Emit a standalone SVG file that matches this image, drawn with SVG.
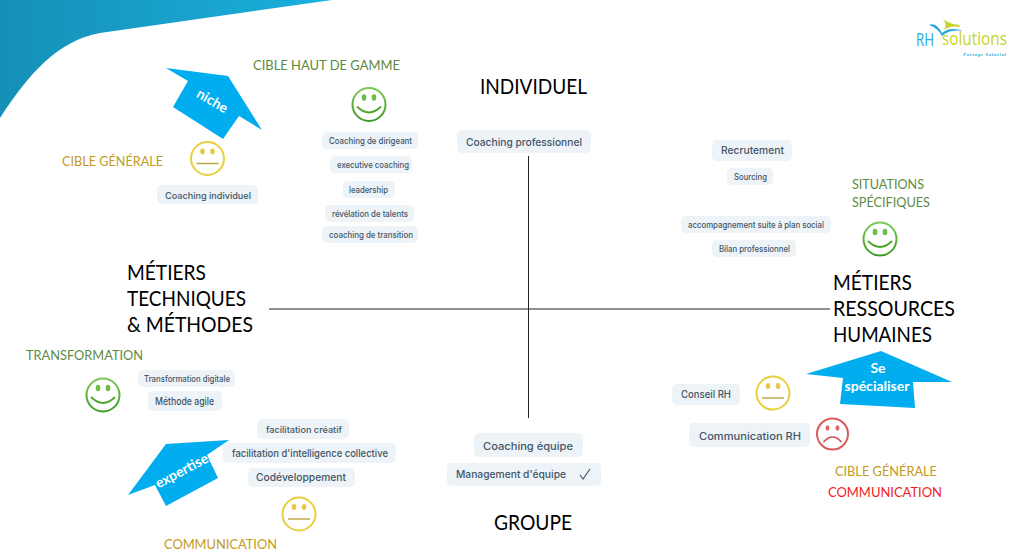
<svg xmlns="http://www.w3.org/2000/svg" xmlns:xlink="http://www.w3.org/1999/xlink" width="1024" height="557" viewBox="0 0 1024 557">
<style>
text{font-family:"Lato","Open Sans","Liberation Sans",sans-serif}
.chip rect{fill:#edf3f6;rx:5px}
.chip text{font-family:"Inter","Roboto","Liberation Sans",sans-serif;fill:#43566a;text-anchor:middle;font-size:9px;font-weight:500}
.m{font-size:10.500px!important}
.axis{font-size:20.500px;fill:#000}
.green{fill:#5d8a42;font-size:14px}
.gold{fill:#c39a22;font-size:14px}
.red{fill:#f21c1c;font-size:14px}
.arrow{fill:#00aeef}
.arrow text{fill:#fff;font-weight:700;text-anchor:middle;font-size:14px}
line{stroke:#222;stroke-width:1}
</style>
<defs>
<linearGradient id="sw" x1="0" y1="0" x2="1" y2="0"><stop offset="0" stop-color="#1590b6"/><stop offset="1" stop-color="#1ab0de"/></linearGradient>
<linearGradient id="gf" x1="0" y1="0" x2="0" y2="1"><stop offset="0" stop-color="#7cc855"/><stop offset="1" stop-color="#3c9a22"/></linearGradient>
<g id="happy"><circle r="16.500" fill="#fff" stroke="url(#gf)" stroke-width="2"/><ellipse cx="-5" cy="-7" rx="2.300" ry="3.200" fill="#6cbd45"/><ellipse cx="5" cy="-7" rx="2.300" ry="3.200" fill="#6cbd45"/><path d="M-12 2Q0 14 12 2" fill="none" stroke="#4ea62e" stroke-width="1.800"/></g>
<g id="neutral"><circle r="16.500" fill="#fff" stroke="#e8cf3c" stroke-width="2"/><ellipse cx="-5" cy="-7" rx="2.300" ry="3" fill="#e6c94a"/><ellipse cx="5" cy="-7" rx="2.300" ry="3" fill="#e6c94a"/><path d="M-11 5H11" fill="none" stroke="#b9a43a" stroke-width="1.400"/></g>
<g id="sad"><circle r="15.500" fill="#fff" stroke="#dc5a5a" stroke-width="2"/><ellipse cx="-5" cy="-6" rx="2" ry="2.700" fill="#e06565"/><ellipse cx="5" cy="-6" rx="2" ry="2.700" fill="#e06565"/><path d="M-9 8Q0 -2 9 8" fill="none" stroke="#d84f4f" stroke-width="1.700"/></g>
</defs>
<rect width="1024" height="557" fill="#fff"/>
<path id="swoosh" d="M0 0H332L100 33C58 41 30 72 0 118Z" fill="url(#sw)"/>
<g id="logo">
<path d="M929 25Q936 22 942 33Q950 26 963 31Q950 29 942 36Q938 28 929 25Z" fill="#1fa8dc"/>
<path d="M941 16Q946 24 959 25L960 27Q950 25 944 30Q948 24 941 16Z" fill="#c8d32a"/>
<text x="916" y="46" font-size="18" fill="#1fa8dc" style="font-family:'Open Sans',sans-serif" textLength="18" lengthAdjust="spacingAndGlyphs">RH</text>
<text x="942" y="45" font-size="18" fill="#c8d32a" style="font-family:'Open Sans',sans-serif" textLength="65" lengthAdjust="spacingAndGlyphs">solutions</text>
<text x="963" y="56" font-size="5" font-style="italic" font-weight="700" fill="#1fa8dc" style="font-family:'Liberation Serif',serif" textLength="43">Portage Salarial</text>
</g>
<g id="connectors"><line x1="269" y1="309" x2="830" y2="309"/><line x1="528.500" y1="156" x2="528.500" y2="418"/></g>
<g id="axis-individuel"><text class="axis" x="480" y="94" textLength="107" lengthAdjust="spacingAndGlyphs">INDIVIDUEL</text></g>
<g id="axis-groupe"><text class="axis" x="494" y="530" textLength="78" lengthAdjust="spacingAndGlyphs">GROUPE</text></g>
<g id="axis-techniques"><text class="axis" x="127" y="280" textLength="79" lengthAdjust="spacingAndGlyphs">MÉTIERS</text><text class="axis" x="127" y="306" textLength="119" lengthAdjust="spacingAndGlyphs">TECHNIQUES</text><text class="axis" x="127" y="332" textLength="126" lengthAdjust="spacingAndGlyphs">&amp; MÉTHODES</text></g>
<g id="axis-rh"><text class="axis" x="833" y="290" textLength="79" lengthAdjust="spacingAndGlyphs">MÉTIERS</text><text class="axis" x="833" y="316" textLength="122" lengthAdjust="spacingAndGlyphs">RESSOURCES</text><text class="axis" x="833" y="342" textLength="99" lengthAdjust="spacingAndGlyphs">HUMAINES</text></g>
<g id="arrow-niche" class="arrow"><path d="M166 68L228 76L262 130L239 116L223 139L173 107L188 81Z"/><text transform="translate(210 105) rotate(30)">niche</text></g>
<g id="arrow-expertise" class="arrow"><path d="M229 440L166 444L128 495L155 485L166 506L218 478L207 455Z"/><text transform="translate(184 475) rotate(-28)">expertise</text></g>
<g id="arrow-specialiser" class="arrow"><path d="M881 351L952 382L913 382L915 408L840 404L843 378L806 374Z"/><text x="878" y="373">Se</text><text x="877" y="391" textLength="65" lengthAdjust="spacingAndGlyphs">spécialiser</text></g>
<g id="label-haut"><text class="green" x="253" y="70" textLength="147" lengthAdjust="spacingAndGlyphs">CIBLE HAUT DE GAMME</text><use xlink:href="#happy" href="#happy" x="369" y="104.500"/></g>
<g id="label-generale"><text class="gold" x="62" y="166" textLength="101" lengthAdjust="spacingAndGlyphs">CIBLE GÉNÉRALE</text><use xlink:href="#neutral" href="#neutral" x="207.500" y="158.500"/></g>
<g id="label-situations"><text class="green" x="852" y="189" textLength="72" lengthAdjust="spacingAndGlyphs">SITUATIONS</text><text class="green" x="852" y="207" textLength="78" lengthAdjust="spacingAndGlyphs">SPÉCIFIQUES</text><use xlink:href="#happy" href="#happy" x="880" y="239"/></g>
<g id="label-transformation"><text class="green" x="26" y="360" textLength="117" lengthAdjust="spacingAndGlyphs">TRANSFORMATION</text><use xlink:href="#happy" href="#happy" x="103" y="395"/></g>
<g id="label-communication"><use xlink:href="#neutral" href="#neutral" x="299" y="514"/><text class="gold" x="164" y="549" textLength="113" lengthAdjust="spacingAndGlyphs">COMMUNICATION</text></g>
<g id="label-rh"><use xlink:href="#neutral" href="#neutral" x="773" y="393"/><use xlink:href="#sad" href="#sad" x="832.500" y="434"/><text class="gold" x="835" y="476" textLength="102" lengthAdjust="spacingAndGlyphs">CIBLE GÉNÉRALE</text><text class="red" x="828" y="497" textLength="114" lengthAdjust="spacingAndGlyphs">COMMUNICATION</text></g>
<g id="chip-individuel" class="chip"><rect x="157" y="185" width="101" height="19"/><text x="208" y="198.500" textLength="86" lengthAdjust="spacingAndGlyphs">Coaching individuel</text></g>
<g id="chip-dirigeant" class="chip"><rect x="322" y="132" width="96" height="17"/><text x="370.500" y="144" textLength="83" lengthAdjust="spacingAndGlyphs">Coaching de dirigeant</text></g>
<g id="chip-executive" class="chip"><rect x="330" y="156" width="82" height="17"/><text x="373" y="168" textLength="72" lengthAdjust="spacingAndGlyphs">executive coaching</text></g>
<g id="chip-leadership" class="chip"><rect x="343" y="181" width="52" height="17"/><text x="368.500" y="193" textLength="39" lengthAdjust="spacingAndGlyphs">leadership</text></g>
<g id="chip-revelation" class="chip"><rect x="325" y="205" width="89" height="17"/><text x="370" y="217" textLength="76" lengthAdjust="spacingAndGlyphs">révélation de talents</text></g>
<g id="chip-transition" class="chip"><rect x="322" y="226" width="96" height="17"/><text x="371" y="238" textLength="84" lengthAdjust="spacingAndGlyphs">coaching de transition</text></g>
<g id="chip-professionnel" class="chip"><rect x="457" y="130" width="134" height="23"/><text class="m" x="524" y="146" textLength="116" lengthAdjust="spacingAndGlyphs">Coaching professionnel</text></g>
<g id="chip-recrutement" class="chip"><rect x="712" y="140" width="80" height="21"/><text class="m" x="752.500" y="154" textLength="63" lengthAdjust="spacingAndGlyphs">Recrutement</text></g>
<g id="chip-sourcing" class="chip"><rect x="727" y="168" width="46" height="17"/><text x="750.500" y="180" textLength="33" lengthAdjust="spacingAndGlyphs">Sourcing</text></g>
<g id="chip-accompagnement" class="chip"><rect x="681" y="216" width="150" height="17"/><text x="756" y="228" textLength="136" lengthAdjust="spacingAndGlyphs">accompagnement suite à plan social</text></g>
<g id="chip-bilan" class="chip"><rect x="712" y="240" width="84" height="17"/><text x="754.500" y="252" textLength="71" lengthAdjust="spacingAndGlyphs">Bilan professionnel</text></g>
<g id="chip-digitale" class="chip"><rect x="138" y="370" width="97" height="17"/><text x="187" y="382" textLength="86" lengthAdjust="spacingAndGlyphs">Transformation digitale</text></g>
<g id="chip-agile" class="chip"><rect x="148" y="391" width="74" height="20"/><text class="m" x="184.500" y="405" textLength="59" lengthAdjust="spacingAndGlyphs">Méthode agile</text></g>
<g id="chip-creatif" class="chip"><rect x="257" y="419" width="92" height="20"/><text x="304" y="432.500" textLength="76" lengthAdjust="spacingAndGlyphs">facilitation créatif</text></g>
<g id="chip-intelligence" class="chip"><rect x="223" y="443" width="173" height="20"/><text class="m" x="310" y="457" textLength="156" lengthAdjust="spacingAndGlyphs">facilitation d'intelligence collective</text></g>
<g id="chip-codev" class="chip"><rect x="248" y="468" width="107" height="19"/><text class="m" x="301" y="481" textLength="90" lengthAdjust="spacingAndGlyphs">Codéveloppement</text></g>
<g id="chip-conseil" class="chip"><rect x="672" y="384" width="68" height="21"/><text class="m" x="706" y="398" textLength="50" lengthAdjust="spacingAndGlyphs">Conseil RH</text></g>
<g id="chip-communication" class="chip"><rect x="689" y="423" width="121" height="24"/><text class="m" x="750" y="440" style="font-size:11px" textLength="102" lengthAdjust="spacingAndGlyphs">Communication RH</text></g>
<g id="chip-equipe" class="chip"><rect x="474" y="433" width="109" height="24"/><text class="m" x="528" y="450" style="font-size:11px" textLength="90" lengthAdjust="spacingAndGlyphs">Coaching équipe</text></g>
<g id="chip-management" class="chip"><rect x="447" y="463" width="154" height="23"/><text class="m" x="511" y="478" style="font-size:11px" textLength="110" lengthAdjust="spacingAndGlyphs">Management d'équipe</text><path d="M580 475L583 479L590 469" fill="none" stroke="#44606e" stroke-width="1.200"/></g>
</svg>
